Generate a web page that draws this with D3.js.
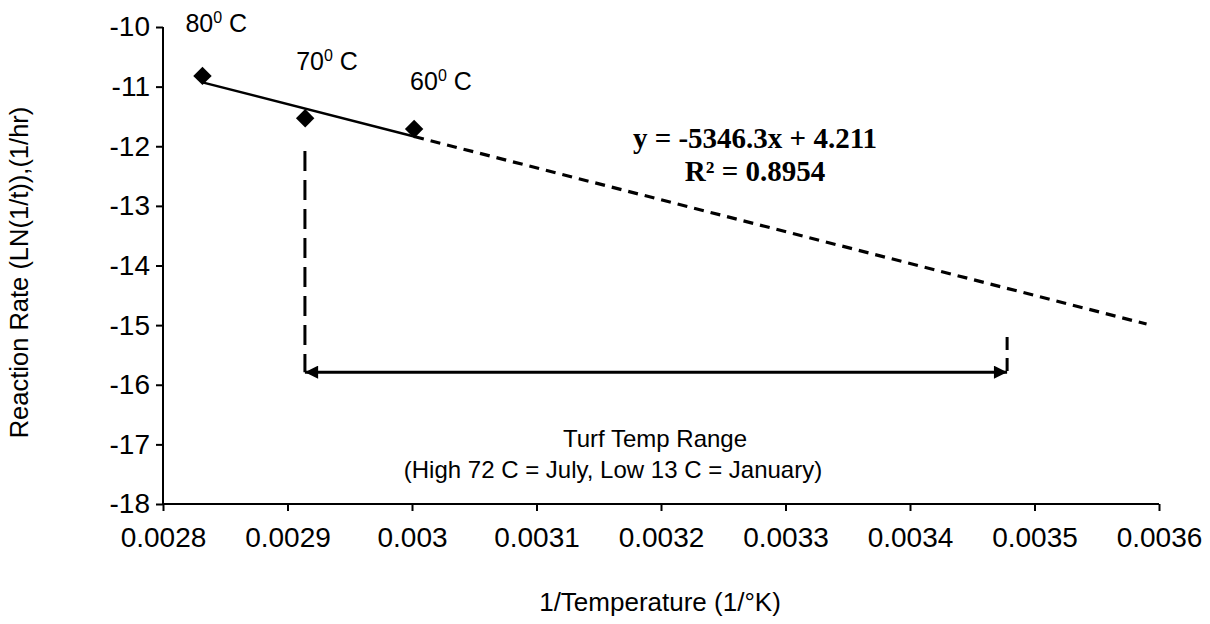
<!DOCTYPE html>
<html>
<head>
<meta charset="utf-8">
<script src="https://cdn.jsdelivr.net/npm/d3@7"></script>
<style>
  body { margin: 0; background: #fff; }
  #chart text { font-family: Arial, "Liberation Sans", sans-serif; fill: #000; }
</style>
</head>
<body>
<div id="chart"></div>
<script>
// measured points (1/K vs ln rate)
const invTemp = [0.0028317, 0.0029142, 0.0030017];
const rate = [-10.82, -11.53, -11.71];
const tempLabels = ["80", "70", "60"];
const xTicks = [0.0028, 0.0029, 0.003, 0.0031, 0.0032, 0.0033, 0.0034, 0.0035, 0.0036];
const yTicks = [-10, -11, -12, -13, -14, -15, -16, -17, -18];
const slope = -5346.3, intercept = 4.211;
const trendEnd = 0.00359;
// turf range markers
const rangeX = [0.002914, 0.003478];
const rangeY = -15.79;
const leftDropTop = -12.08;
const rightDropTop = -15.2;

const W = 1210, H = 624;
const margin = { top: 27, right: 51, bottom: 120, left: 163 };
const width = W - margin.left - margin.right, height = H - margin.top - margin.bottom;

const root = d3.select("#chart").append("svg").attr("width", W).attr("height", H);
const svg = root.append("g").attr("transform", `translate(${margin.left},${margin.top})`);

const x = d3.scaleLinear().domain([0.0028, 0.0036]).range([0, width]);
const y = d3.scaleLinear().domain([-18, -10]).range([height, 0]);

const defs = root.append("defs");
defs.append("marker").attr("id", "arrowEnd")
    .attr("viewBox", "0 0 10 10").attr("refX", 10).attr("refY", 5)
    .attr("markerWidth", 5.5).attr("markerHeight", 4.4).attr("markerUnits", "strokeWidth")
    .attr("orient", "auto-start-reverse")
    .append("path").attr("d", "M0,0L10,5L0,10Z").attr("fill", "#000");

// axes
const xAxis = svg.append("g").attr("transform", `translate(0,${height})`)
    .call(d3.axisBottom(x).tickValues(xTicks).tickSize(7).tickSizeOuter(0).tickFormat(d => String(+d.toFixed(4))));
xAxis.selectAll("text").style("font-size", "28px").attr("dy", "1.18em");
const yAxis = svg.append("g")
    .call(d3.axisLeft(y).tickValues(yTicks).tickSize(7).tickSizeOuter(0).tickFormat(d => String(d)));
yAxis.selectAll("text").style("font-size", "28px").attr("x", -13);
svg.selectAll(".domain, .tick line").attr("stroke", "#000").attr("stroke-width", 2);
yAxis.select(".domain").attr("d", `M0,0V${height}`);
xAxis.select(".domain").attr("d", `M0,0H${width}`);

// axis titles
svg.append("text")
    .attr("x", width / 2 - 1).attr("y", height + 107)
    .attr("text-anchor", "middle").style("font-size", "26px")
    .text("1/Temperature (1/°K)");
svg.append("text")
    .attr("transform", `translate(${-135},${height / 2 + 7}) rotate(-90)`)
    .attr("text-anchor", "middle").style("font-size", "25.5px")
    .text("Reaction Rate (LN(1/t)),(1/hr)");

// trendline: solid over data, dashed projection
const xFirst = invTemp[0], xLast = invTemp[invTemp.length - 1];
const fit = v => slope * v + intercept;
svg.append("line")
    .attr("x1", x(xFirst)).attr("y1", y(fit(xFirst)))
    .attr("x2", x(xLast)).attr("y2", y(fit(xLast)))
    .attr("stroke", "#000").attr("stroke-width", 2.5);
svg.append("line")
    .attr("x1", x(xLast)).attr("y1", y(fit(xLast)))
    .attr("x2", x(trendEnd)).attr("y2", y(fit(trendEnd)))
    .attr("stroke", "#000").attr("stroke-width", 3.2).attr("stroke-dasharray", "10,7");

// points
svg.selectAll("path.pt")
    .data(invTemp).enter().append("path").attr("class", "pt")
    .attr("d", d3.symbol(d3.symbolSquare, 170))
    .attr("transform", (d, i) => `translate(${x(d)},${y(rate[i])}) rotate(45)`)
    .attr("fill", "#000");

// point labels
const labelOff = [[-17, -44], [-9, -48], [-4, -39]];
const lab = svg.selectAll("text.tl")
    .data(tempLabels).enter().append("text").attr("class", "tl")
    .attr("x", (d, i) => x(invTemp[i]) + labelOff[i][0])
    .attr("y", (d, i) => y(rate[i]) + labelOff[i][1])
    .style("font-size", "25px");
lab.append("tspan").text(d => d);
lab.append("tspan").text("0").style("font-size", "16px").attr("dy", -9);
lab.append("tspan").text(" C").attr("dy", 9);

// equation
const eqX = 592;
const eq = svg.append("text").attr("y", 121)
    .attr("text-anchor", "middle")
    .style("font-family", "'Liberation Serif', 'Times New Roman', serif")
    .style("font-weight", "bold").style("font-size", "29px");
eq.append("tspan").attr("x", eqX).text("y = -5346.3x + 4.211");
eq.append("tspan").attr("x", eqX).attr("dy", 33).text("R² = 0.8954");

// turf range drop lines and arrow
svg.append("line")
    .attr("x1", x(rangeX[0])).attr("x2", x(rangeX[0]))
    .attr("y1", y(leftDropTop)).attr("y2", y(rangeY))
    .attr("stroke", "#000").attr("stroke-width", 3).attr("stroke-dasharray", "20,9");
svg.append("line")
    .attr("x1", x(rangeX[1])).attr("x2", x(rangeX[1]))
    .attr("y1", y(rightDropTop)).attr("y2", y(rangeY))
    .attr("stroke", "#000").attr("stroke-width", 3).attr("stroke-dasharray", "13,8");
svg.append("line")
    .attr("x1", x(rangeX[0])).attr("x2", x(rangeX[1]))
    .attr("y1", y(rangeY)).attr("y2", y(rangeY))
    .attr("stroke", "#000").attr("stroke-width", 3)
    .attr("marker-start", "url(#arrowEnd)").attr("marker-end", "url(#arrowEnd)");

svg.append("text").attr("x", 492).attr("y", 420)
    .attr("text-anchor", "middle").style("font-size", "24px")
    .text("Turf Temp Range");
svg.append("text").attr("x", 450).attr("y", 451)
    .attr("text-anchor", "middle").style("font-size", "24px")
    .text("(High 72 C = July, Low 13 C = January)");
</script>
</body>
</html>
